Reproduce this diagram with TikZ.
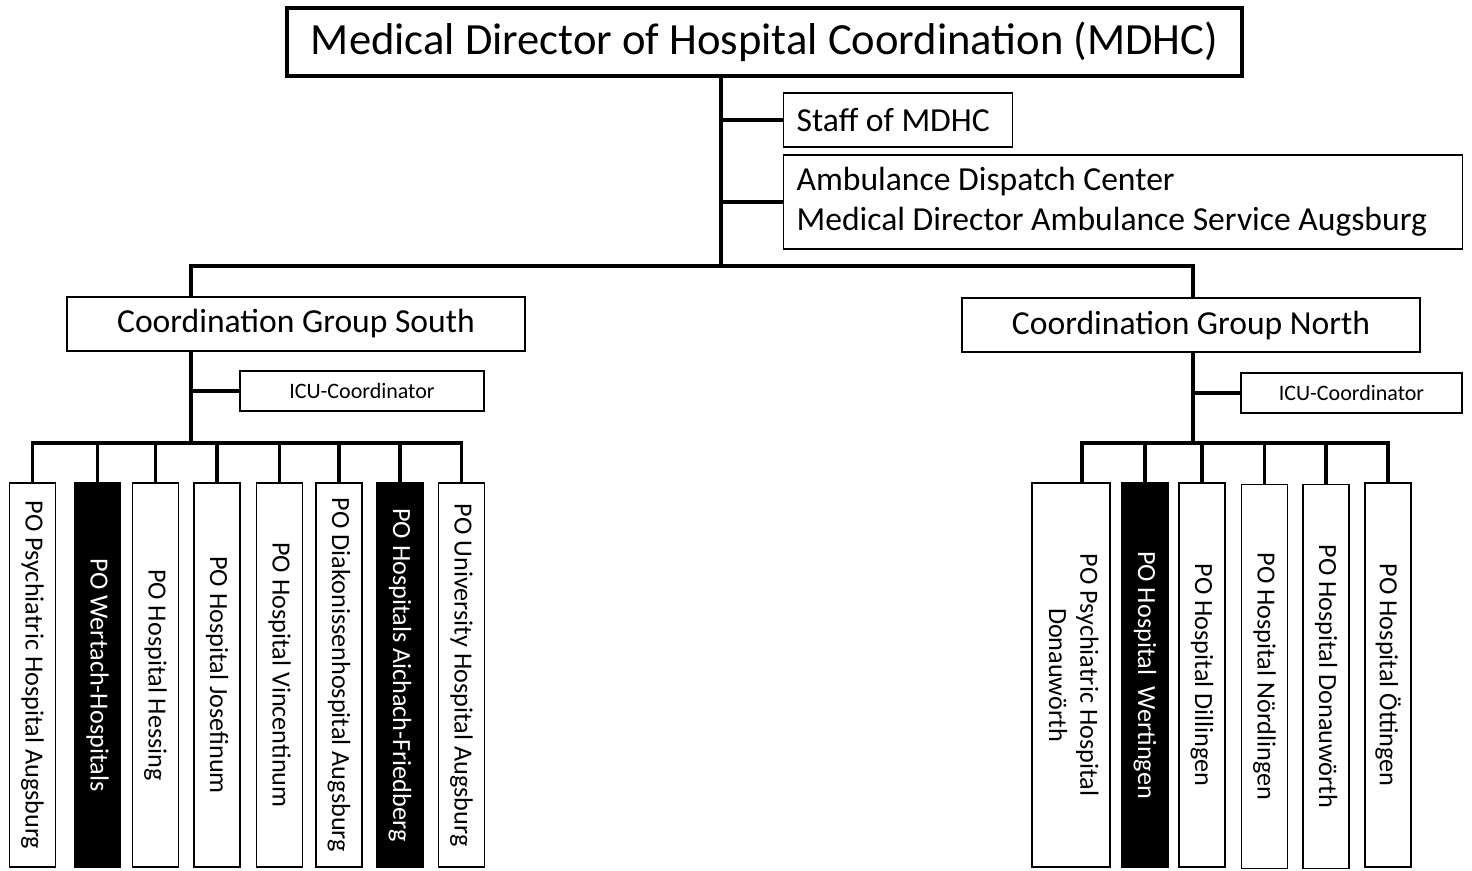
\documentclass[tikz,border=0pt]{standalone}
\usepackage{fontspec}
\setmainfont{Carlito}
\usepackage{graphicx}

\begin{document}
\begin{tikzpicture}[x=0.5pt, y=-0.5pt,
		link/.style={line width=1.6pt},
		hosp/.style={draw, line width=0.8pt, inner sep=0pt, minimum width=23pt, minimum height=192pt, font=\fontsize{13.1}{15.7}\selectfont},
		dark/.style={hosp, fill=black, text=white},
		group/.style={draw, line width=1pt, inner sep=0pt, minimum width=229pt, minimum height=27pt, font=\fontsize{16.8}{20.2}\selectfont},
		icu/.style={draw, line width=0.6pt, inner sep=0pt, minimum height=20pt, font=\fontsize{11}{13}\selectfont},
		side/.style={draw, line width=0.6pt, anchor=west, inner xsep=6.5pt, inner ysep=0pt, align=flush left, font=\fontsize{16.8}{20.2}\selectfont}]
	\useasboundingbox (0, 0) rectangle (1472, 871);
	\node [draw, line width=1.6pt, inner sep=0pt, minimum width=477.5pt, minimum height=34pt, font=\fontsize{22.3}{26.8}\selectfont] (mdhc) at (764.5, 42) {Medical Director of Hospital Coordination (MDHC)};
	\node [side, text width=101.5pt, minimum height=27pt] (staff) at (783, 120) {Staff of MDHC};
	\node [side, text width=326.5pt, minimum height=47pt] (amb) at (783, 202) {Ambulance Dispatch Center\\Medical Director Ambulance Service Augsburg};
	\node [group] (south) at (296, 324) {Coordination Group South};
	\node [group] (north) at (1191, 325.5) {Coordination Group North};
	\node [icu, minimum width=122pt] (sicu) at (362, 391) {ICU-Coordinator};
	\node [icu, minimum width=110.5pt] (nicu) at (1351.5, 393) {ICU-Coordinator};
	\coordinate (hub) at (721, 266);
	\coordinate (shub) at (191, 443);
	\coordinate (nhub) at (1193, 443);
	\draw [link] (hub |- mdhc.south) -- (hub);
	\draw [link] (hub |- staff.west) -- (staff.west);
	\draw [link] (hub |- amb.west) -- (amb.west);
	\draw [link] (hub) -| (shub |- south.north);
	\draw [link] (hub) -| (nhub |- north.north);
	\draw [link] (shub |- south.south) -- (shub);
	\draw [link] (shub |- sicu.west) -- (sicu.west);
	\draw [link] (nhub |- north.south) -- (nhub);
	\draw [link] (nhub |- nicu.west) -- (nicu.west);

	\node [hosp] (s1) at (32.5, 675) {\rotatebox{-90}{PO Psychiatric Hospital Augsburg}};
	\node [dark] (s2) at (97.5, 675) {\rotatebox{-90}{PO Wertach-Hospitals}};
	\node [hosp] (s3) at (155.5, 675) {\rotatebox{-90}{PO Hospital Hessing}};
	\node [hosp] (s4) at (217, 675) {\rotatebox{-90}{PO Hospital Josefinum}};
	\node [hosp] (s5) at (279.5, 675) {\rotatebox{-90}{PO Hospital Vincentinum}};
	\node [hosp] (s6) at (339, 675) {\rotatebox{-90}{PO Diakonissenhospital Augsburg}};
	\node [dark] (s7) at (400, 675) {\rotatebox{-90}{PO Hospitals Aichach-Friedberg}};
	\node [hosp] (s8) at (461.5, 675) {\rotatebox{-90}{PO University Hospital Augsburg}};
	\draw [link] (s1.north) |- (shub) -| (s8.north);
	\draw [link] (s2.north) -- (s2.north |- shub);
	\draw [link] (s3.north) -- (s3.north |- shub);
	\draw [link] (s4.north) -- (s4.north |- shub);
	\draw [link] (s5.north) -- (s5.north |- shub);
	\draw [link] (s6.north) -- (s6.north |- shub);
	\draw [link] (s7.north) -- (s7.north |- shub);

	\node [hosp, minimum width=39pt] (n1) at (1071, 675) {\rotatebox{-90}{\begin{tabular}{@{}c@{}}PO Psychiatric Hospital\\Donauwörth\end{tabular}}};
	\node [dark] (n2) at (1145, 675) {\rotatebox{-90}{PO Hospital\ \ Wertingen}};
	\node [hosp] (n3) at (1202, 675) {\rotatebox{-90}{PO Hospital Dillingen}};
	\node [hosp] (n4) at (1264.5, 676.5) {\rotatebox{-90}{PO Hospital Nördlingen}};
	\node [hosp] (n5) at (1326, 676.5) {\rotatebox{-90}{PO Hospital Donauwörth}};
	\node [hosp] (n6) at (1388, 675) {\rotatebox{-90}{PO Hospital Öttingen}};
	\draw [link] ([xshift=5.5pt]n1.north) |- (nhub) -| (n6.north);
	\draw [link] (n2.north) -- (n2.north |- nhub);
	\draw [link] (n3.north) -- (n3.north |- nhub);
	\draw [link] (n4.north) -- (n4.north |- nhub);
	\draw [link] (n5.north) -- (n5.north |- nhub);
\end{tikzpicture}
\end{document}
